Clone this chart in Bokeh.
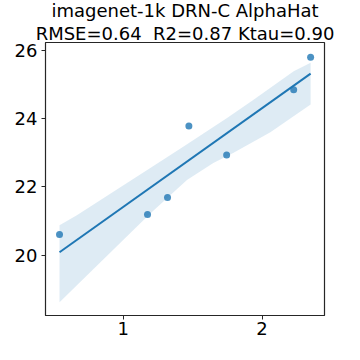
from bokeh.plotting import figure
from bokeh.models import Range1d, FixedTicker
from bokeh.embed import file_html
from bokeh.resources import INLINE

# data
x_pts = [0.541, 1.175, 1.319, 1.473, 1.745, 2.228, 2.350]
y_pts = [20.61, 21.19, 21.69, 23.78, 22.93, 24.84, 25.79]

line_x = [0.541, 2.350]
line_y = [20.09, 25.31]

band_upper_x = [0.541, 0.666, 1.027, 1.195, 1.435, 1.748, 1.939, 2.228, 2.350]
band_upper_y = [20.88, 21.17, 22.11, 22.55, 23.18, 24.01, 24.55, 25.38, 25.63]
band_lower_x = [0.541, 1.195, 1.459, 1.649, 1.795, 2.060, 2.350]
band_lower_y = [18.63, 21.22, 22.20, 22.70, 23.00, 23.60, 24.41]

x_ticks = [1, 2]
y_ticks = [20, 22, 24, 26]

title1 = "imagenet-1k DRN-C AlphaHat"
title2 = "RMSE=0.64\u00a0 R2=0.87 Ktau=0.90"

BLUE = "#1f77b4"
FONT = "DejaVu Sans"

X0, X1 = 0.44, 2.45
Y0, Y1 = 18.24, 26.22

p = figure(width=350, height=350, output_backend="svg", toolbar_location=None,
           x_range=Range1d(X0, X1), y_range=Range1d(Y0, Y1),
           min_border_left=45, min_border_right=26, min_border_bottom=35, min_border_top=0)

p.title.text = title1 + "\n" + title2
p.title.text_font = FONT
p.title.text_font_size = "18px"
p.title.text_font_style = "normal"
p.title.text_color = "black"
p.title.align = "center"
p.title.standoff = -4
p.title.offset = 0
p.title.text_line_height = 1.1
if "text_align" in p.title.properties():
    p.title.text_align = "center"

# band
poly_x = band_upper_x + band_lower_x[::-1]
poly_y = band_upper_y + band_lower_y[::-1]
p.patch(poly_x, poly_y, fill_color=BLUE, fill_alpha=0.15, line_color=None)

p.line(line_x, line_y, line_color=BLUE, line_width=2)
p.scatter(x_pts, y_pts, size=7, fill_color=BLUE, fill_alpha=0.8, line_color=None)

p.xgrid.visible = False
p.ygrid.visible = False
p.outline_line_color = "#262626"
p.outline_line_width = 1.2

for ax in (p.xaxis[0], p.yaxis[0]):
    ax.axis_line_color = "#262626"
    ax.major_tick_line_color = "#262626"
    ax.minor_tick_line_color = None
    ax.major_tick_out = 4
    ax.major_tick_in = 0
    ax.major_label_text_font = FONT
    ax.major_label_text_font_size = "18px"
    ax.major_label_text_color = "black"
p.xaxis[0].major_label_standoff = 2
p.yaxis[0].major_label_standoff = 4

p.xaxis.ticker = FixedTicker(ticks=x_ticks)
p.yaxis.ticker = FixedTicker(ticks=y_ticks)

open("out.html", "w").write(file_html(p, INLINE))
